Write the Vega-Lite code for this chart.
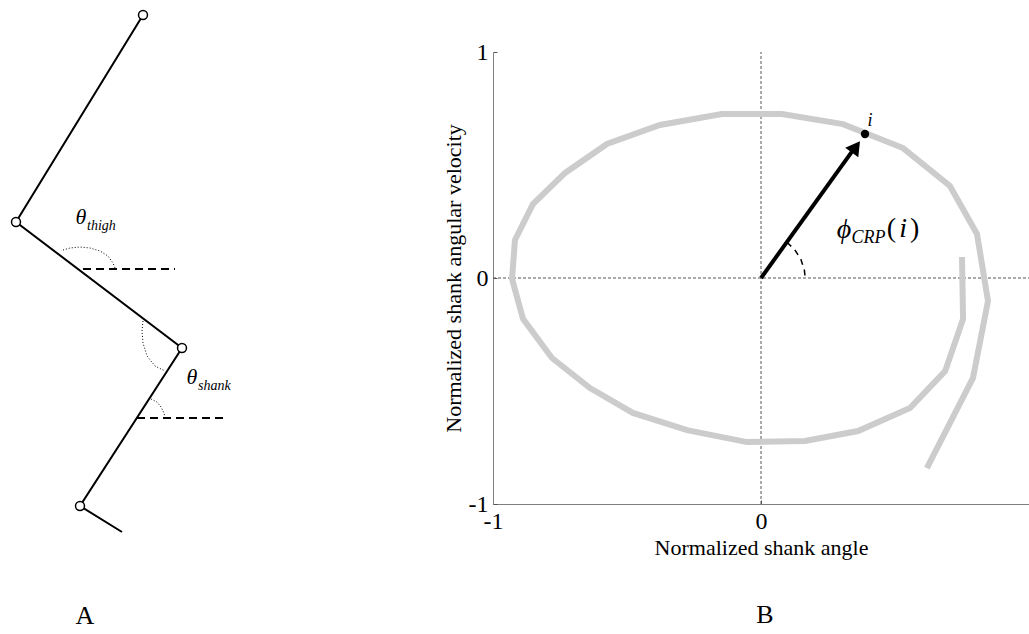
{
  "$schema": "https://vega.github.io/schema/vega-lite/v6.json",
  "padding": {"left": 0, "top": 7, "right": 0, "bottom": 0},
  "autosize": {"type": "pad"},
  "bounds": "flush",
  "spacing": 43,
  "background": "white",
  "config": {
    "view": {"stroke": null},
    "font": "Liberation Serif",
    "text": {"font": "Liberation Serif", "color": "black"}
  },
  "datasets": {
    "leg": [
      {"k": 1, "x": 143, "y": 489},
      {"k": 2, "x": 16, "y": 282},
      {"k": 3, "x": 182, "y": 156},
      {"k": 4, "x": 80, "y": -2},
      {"k": 5, "x": 122, "y": -28}
    ],
    "joints": [
      {"x": 143, "y": 489},
      {"x": 16, "y": 282},
      {"x": 182, "y": 156},
      {"x": 80, "y": -2}
    ],
    "horiz": [
      {"x": 83, "x2": 175, "y": 235},
      {"x": 137, "x2": 228, "y": 86}
    ],
    "arcsA": [
      {"arc": "thigh", "k": 1, "x": 63, "y": 254},
      {"arc": "thigh", "k": 2, "x": 70, "y": 256},
      {"arc": "thigh", "k": 3, "x": 80, "y": 257},
      {"arc": "thigh", "k": 4, "x": 90, "y": 256},
      {"arc": "thigh", "k": 5, "x": 100, "y": 253},
      {"arc": "thigh", "k": 6, "x": 108, "y": 248},
      {"arc": "thigh", "k": 7, "x": 113, "y": 241},
      {"arc": "thigh", "k": 8, "x": 115, "y": 236},
      {"arc": "knee", "k": 1, "x": 143, "y": 183},
      {"arc": "knee", "k": 2, "x": 142, "y": 173},
      {"arc": "knee", "k": 3, "x": 143, "y": 161},
      {"arc": "knee", "k": 4, "x": 147, "y": 148},
      {"arc": "knee", "k": 5, "x": 155, "y": 138},
      {"arc": "knee", "k": 6, "x": 165, "y": 133},
      {"arc": "shank", "k": 1, "x": 151, "y": 105},
      {"arc": "shank", "k": 2, "x": 157, "y": 102},
      {"arc": "shank", "k": 3, "x": 161, "y": 97},
      {"arc": "shank", "k": 4, "x": 164, "y": 91},
      {"arc": "shank", "k": 5, "x": 165, "y": 86}
    ],
    "thetas": [
      {"t": "θ", "x": 81, "y": 287},
      {"t": "θ", "x": 192, "y": 127}
    ],
    "subsA": [
      {"t": "thigh", "x": 87, "y": 278},
      {"t": "shank", "x": 198, "y": 118}
    ],
    "labelA": [{"t": "A", "x": 85, "y": -112}],
    "curve": [
      {"k": 1, "x": 0.750, "y": 0.093},
      {"k": 2, "x": 0.754, "y": -0.181},
      {"k": 3, "x": 0.687, "y": -0.412},
      {"k": 4, "x": 0.556, "y": -0.575},
      {"k": 5, "x": 0.362, "y": -0.677},
      {"k": 6, "x": 0.164, "y": -0.721},
      {"k": 7, "x": -0.052, "y": -0.726},
      {"k": 8, "x": -0.276, "y": -0.673},
      {"k": 9, "x": -0.478, "y": -0.597},
      {"k": 10, "x": -0.638, "y": -0.487},
      {"k": 11, "x": -0.780, "y": -0.354},
      {"k": 12, "x": -0.888, "y": -0.181},
      {"k": 13, "x": -0.929, "y": -0.004},
      {"k": 14, "x": -0.918, "y": 0.168},
      {"k": 15, "x": -0.851, "y": 0.327},
      {"k": 16, "x": -0.731, "y": 0.465},
      {"k": 17, "x": -0.575, "y": 0.593},
      {"k": 18, "x": -0.377, "y": 0.677},
      {"k": 19, "x": -0.146, "y": 0.726},
      {"k": 20, "x": 0.078, "y": 0.726},
      {"k": 21, "x": 0.306, "y": 0.681},
      {"k": 22, "x": 0.530, "y": 0.575},
      {"k": 23, "x": 0.705, "y": 0.407},
      {"k": 24, "x": 0.806, "y": 0.195},
      {"k": 25, "x": 0.847, "y": -0.102},
      {"k": 26, "x": 0.791, "y": -0.442},
      {"k": 27, "x": 0.619, "y": -0.841}
    ],
    "cross": [
      {"x": -1, "x2": 1, "y": 0, "y2": 0},
      {"x": 0, "x2": 0, "y": -1, "y2": 1}
    ],
    "arrow": [
      {"k": 1, "x": 0, "y": 0},
      {"k": 2, "x": 0.34, "y": 0.56}
    ],
    "head": [{"x": 0.354, "y": 0.58}],
    "dot": [{"x": 0.388, "y": 0.637}],
    "phiarc": [
      {"k": 1, "x": 0.0966, "y": 0.158},
      {"k": 2, "x": 0.126, "y": 0.125},
      {"k": 3, "x": 0.149, "y": 0.082},
      {"k": 4, "x": 0.162, "y": 0.034},
      {"k": 5, "x": 0.164, "y": 0.01}
    ],
    "phi": [{"t": "ϕ", "x": 0.310, "y": 0.212}, {"t": "i", "x": 0.530, "y": 0.217}],
    "crp": [{"t": "CRP", "x": 0.338, "y": 0.177}],
    "parens": [{"t": "(", "x": 0.487, "y": 0.217}, {"t": ")", "x": 0.573, "y": 0.217}],
    "ilabel": [{"t": "i", "x": 0.407, "y": 0.695}],
    "labelB": [{"t": "B", "x": 0.015, "y": -1.491}]
  },
  "hconcat": [
    {
      "width": 450,
      "height": 452,
      "encoding": {
        "x": {"field": "x", "type": "quantitative", "scale": {"domain": [0, 450], "nice": false, "zero": false}, "axis": null},
        "y": {"field": "y", "type": "quantitative", "scale": {"domain": [0, 452], "nice": false, "zero": false}, "axis": null}
      },
      "layer": [
        {
          "data": {"name": "arcsA"},
          "mark": {"type": "line", "color": "black", "strokeWidth": 1, "strokeDash": [1, 2]},
          "encoding": {"detail": {"field": "arc"}, "order": {"field": "k", "type": "quantitative"}}
        },
        {
          "data": {"name": "horiz"},
          "mark": {"type": "rule", "color": "black", "strokeWidth": 2, "strokeDash": [8, 5]},
          "encoding": {"x2": {"field": "x2"}}
        },
        {
          "data": {"name": "leg"},
          "mark": {"type": "line", "color": "black", "strokeWidth": 2},
          "encoding": {"order": {"field": "k", "type": "quantitative"}}
        },
        {
          "data": {"name": "joints"},
          "mark": {"type": "point", "filled": true, "fill": "white", "stroke": "black", "strokeWidth": 1.5, "size": 80, "opacity": 1},
          "encoding": {}
        },
        {
          "data": {"name": "thetas"},
          "mark": {"type": "text", "fontSize": 22, "fontStyle": "italic", "align": "center", "baseline": "middle"},
          "encoding": {"text": {"field": "t"}}
        },
        {
          "data": {"name": "subsA"},
          "mark": {"type": "text", "fontSize": 14, "fontStyle": "italic", "align": "left", "baseline": "middle"},
          "encoding": {"text": {"field": "t"}}
        },
        {
          "data": {"name": "labelA"},
          "mark": {"type": "text", "fontSize": 26, "align": "center", "baseline": "middle"},
          "encoding": {"text": {"field": "t"}}
        }
      ]
    },
    {
      "width": 536,
      "height": 452,
      "encoding": {
        "x": {
          "field": "x", "type": "quantitative",
          "scale": {"domain": [-1, 1], "nice": false, "zero": false},
          "axis": {
            "values": [-1, 0], "title": "Normalized shank angle", "grid": false,
            "labelExpr": "datum.value < 0 ? '-' + format(-datum.value, 'd') : format(datum.value, 'd')", "labelFlush": false,
            "labelFont": "Liberation Serif", "labelFontSize": 24, "labelColor": "black", "labelPadding": 9,
            "titleFont": "Liberation Serif", "titleFontSize": 22, "titleFontWeight": "normal", "titleColor": "black", "titlePadding": 4,
            "domainColor": "#7f7f7f", "tickColor": "#555555", "tickSize": -4
          }
        },
        "y": {
          "field": "y", "type": "quantitative",
          "scale": {"domain": [-1, 1], "nice": false, "zero": false},
          "axis": {
            "values": [-1, 0, 1], "title": "Normalized shank angular velocity", "grid": false,
            "labelExpr": "datum.value < 0 ? '-' + format(-datum.value, 'd') : format(datum.value, 'd')", "labelFlush": false,
            "labelFont": "Liberation Serif", "labelFontSize": 24, "labelColor": "black", "labelPadding": 9,
            "titleFont": "Liberation Serif", "titleFontSize": 22, "titleFontWeight": "normal", "titleColor": "black", "titlePadding": 3,
            "domainColor": "#7f7f7f", "tickColor": "#555555", "tickSize": -4
          }
        }
      },
      "layer": [
        {
          "data": {"name": "cross"},
          "mark": {"type": "rule", "color": "#555555", "strokeWidth": 1, "strokeDash": [3, 2]},
          "encoding": {"x2": {"field": "x2"}, "y2": {"field": "y2"}}
        },
        {
          "data": {"name": "curve"},
          "mark": {"type": "line", "color": "#cccccc", "strokeWidth": 6, "strokeJoin": "miter"},
          "encoding": {"order": {"field": "k", "type": "quantitative"}}
        },
        {
          "data": {"name": "phiarc"},
          "mark": {"type": "line", "color": "black", "strokeWidth": 1.5, "strokeDash": [6, 5]},
          "encoding": {"order": {"field": "k", "type": "quantitative"}}
        },
        {
          "data": {"name": "arrow"},
          "mark": {"type": "line", "color": "black", "strokeWidth": 4},
          "encoding": {"order": {"field": "k", "type": "quantitative"}}
        },
        {
          "data": {"name": "head"},
          "mark": {"type": "point", "shape": "triangle-up", "filled": true, "color": "black", "size": 260, "angle": 36, "opacity": 1},
          "encoding": {}
        },
        {
          "data": {"name": "dot"},
          "mark": {"type": "point", "shape": "circle", "filled": true, "color": "black", "size": 70, "opacity": 1},
          "encoding": {}
        },
        {
          "data": {"name": "phi"},
          "mark": {"type": "text", "fontSize": 28, "fontStyle": "italic", "align": "center", "baseline": "middle"},
          "encoding": {"text": {"field": "t"}}
        },
        {
          "data": {"name": "crp"},
          "mark": {"type": "text", "fontSize": 18, "fontStyle": "italic", "align": "left", "baseline": "middle"},
          "encoding": {"text": {"field": "t"}}
        },
        {
          "data": {"name": "parens"},
          "mark": {"type": "text", "fontSize": 28, "align": "center", "baseline": "middle"},
          "encoding": {"text": {"field": "t"}}
        },
        {
          "data": {"name": "ilabel"},
          "mark": {"type": "text", "fontSize": 18, "fontStyle": "italic", "align": "center", "baseline": "middle"},
          "encoding": {"text": {"field": "t"}}
        },
        {
          "data": {"name": "labelB"},
          "mark": {"type": "text", "fontSize": 26, "align": "center", "baseline": "middle"},
          "encoding": {"text": {"field": "t"}}
        }
      ]
    }
  ]
}
